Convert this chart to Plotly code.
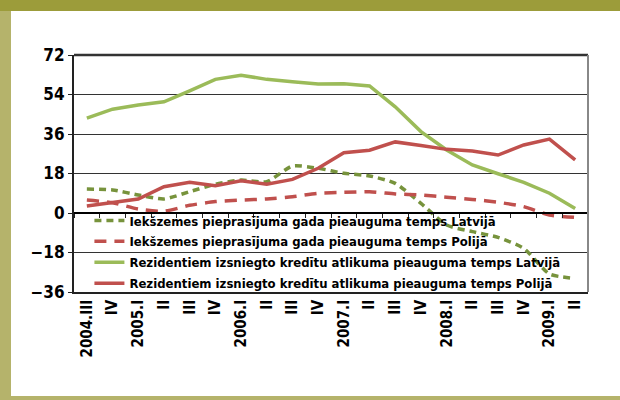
import plotly.graph_objects as go

categories = ["2004.III", "IV", "2005.I", "II", "III", "IV", "2006.I", "II", "III", "IV",
              "2007.I", "II", "III", "IV", "2008.I", "II", "III", "IV", "2009.I", "II"]
latvia_demand = [10.9, 10.5, 8.2, 6.4, 9.7, 13.1, 15.0, 14.3, 21.4, 20.4,
                 18.1, 16.9, 13.5, 4.4, -5.5, -8.5, -11.1, -16.1, -27.8, -29.8]
poland_demand = [5.9, 4.7, 1.8, 0.8, 3.5, 5.2, 5.9, 6.4, 7.4, 9.0,
                 9.4, 9.7, 8.7, 8.2, 7.2, 6.2, 4.9, 2.9, -0.9, -2.0]
latvia_credit = [43.2, 47.3, 49.2, 50.7, 55.7, 60.9, 62.8, 60.9, 59.8, 58.8,
                 58.9, 57.9, 48.4, 37.1, 28.7, 21.9, 17.9, 14.0, 9.0, 2.1]
poland_credit = [3.2, 4.7, 6.4, 12.0, 14.0, 12.4, 14.7, 13.1, 15.3, 20.4,
                 27.5, 28.6, 32.4, 30.8, 29.0, 28.3, 26.4, 31.0, 33.7, 24.2]
names = ["Iekšzemes pieprasījuma gada pieauguma temps Latvijā",
         "Iekšzemes pieprasījuma gada pieauguma temps Polijā",
         "Rezidentiem izsniegto kredītu atlikuma pieauguma temps Latvijā",
         "Rezidentiem izsniegto kredītu atlikuma pieauguma temps Polijā"]
y_ticks = [-36, -18, 0, 18, 36, 54, 72]

FONT = "DejaVu Sans Condensed, DejaVu Sans, sans-serif"
x = list(range(len(categories)))

fig = go.Figure()
fig.add_trace(go.Scatter(x=x, y=latvia_demand, name=names[0], mode="lines", legendgroup="a",
                         line=dict(color="#77933c", width=3.5, dash="7px,5px", shape="spline", smoothing=0.6)))
fig.add_trace(go.Scatter(x=x, y=poland_demand, name=names[1], mode="lines", legendgroup="b",
                         line=dict(color="#c0504d", width=3.5, dash="12px,8px", shape="spline", smoothing=0.6)))
fig.add_trace(go.Scatter(x=x, y=latvia_credit, name=names[2], mode="lines", legendgroup="c",
                         line=dict(color="#9bbb59", width=3.5)))
fig.add_trace(go.Scatter(x=x, y=poland_credit, name=names[3], mode="lines", legendgroup="d",
                         line=dict(color="#c0504d", width=3.5)))
# invisible trace for the zero-crossing axis
fig.add_trace(go.Scatter(x=x, y=[0] * len(x), xaxis="x2", mode="lines",
                         line=dict(width=0), showlegend=False, hoverinfo="skip"))

fig.update_layout(
    width=620, height=400,
    margin=dict(l=74, r=32, t=55, b=108),
    paper_bgcolor="white", plot_bgcolor="white",
    font=dict(family=FONT, size=18, color="black", weight="bold"),
    showlegend=True,
    legend=dict(x=0.03, y=0.365, xanchor="left", yanchor="top",
                bgcolor="rgba(0,0,0,0)", font=dict(size=13, family=FONT, weight="bold"),
                tracegroupgap=1, itemwidth=30),
    xaxis=dict(range=[-0.5, 19.5], tickmode="array", tickvals=x, ticktext=categories,
               tickangle=-90, ticks="", showgrid=False, zeroline=False,
               showline=True, linecolor="#222", linewidth=1.5,
               tickfont=dict(size=15, family=FONT, weight="bold")),
    xaxis2=dict(range=[-0.5, 19.5], overlaying="x", anchor="free", position=1/3,
                tickmode="array", tickvals=[i - 0.5 for i in range(len(categories) + 1)],
                showticklabels=False, ticks="outside", ticklen=4, tickcolor="#222",
                showline=True, linecolor="black", linewidth=1.5, showgrid=False, zeroline=False),
    yaxis=dict(range=[-36, 72], tickmode="array", tickvals=y_ticks,
               showgrid=True, gridcolor="#333", gridwidth=1, zeroline=False,
               showline=True, linecolor="#222", linewidth=2,
               ticks="outside", ticklen=4, tickcolor="#222",
               tickfont=dict(size=17, family=FONT, weight="bold")),
    shapes=[
        dict(type="line", xref="paper", yref="paper", x0=0, x1=1, y0=1, y1=1,
             line=dict(color="#333", width=2.5)),
        dict(type="line", xref="paper", yref="paper", x0=1, x1=1, y0=0, y1=1,
             line=dict(color="#888", width=2)),
        dict(type="rect", xref="paper", yref="paper", x0=-0.16, x1=(11 - 74) / 514,
             y0=(292 - 400) / 237, y1=(292 - 0) / 237,
             fillcolor="#b5b36b", line=dict(width=0), layer="below"),
        dict(type="rect", xref="paper", yref="paper", x0=-0.16, x1=1.1,
             y0=(292 - 11) / 237, y1=(292 + 2) / 237,
             fillcolor="#9c9c3a", line=dict(width=0), layer="below"),
        dict(type="rect", xref="paper", yref="paper", x0=-0.16, x1=1.1,
             y0=(292 - 402) / 237, y1=(292 - 396) / 237,
             fillcolor="#b5b36b", line=dict(width=0), layer="below"),
    ],
)

fig.write_html("out.html", config={"displayModeBar": False},
               post_script="document.body.style.margin='0';")
